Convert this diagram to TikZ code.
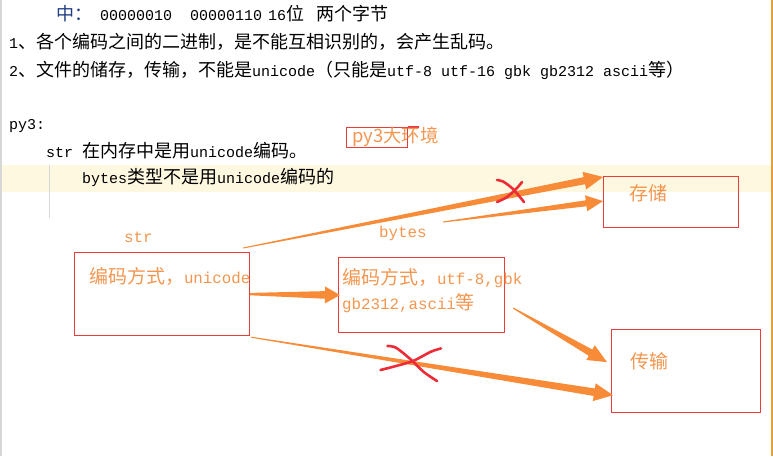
\documentclass[tikz,border=0pt]{standalone}
\usepackage{fontspec}
\setmainfont{Liberation Mono}
\newfontfamily\zhfont[Scale=1.2]{Noto Sans CJK SC}
\usetikzlibrary{calc}
\newcommand\zh[1]{{\zhfont #1}}
\definecolor{arrowc}{RGB}{247,139,56}
\definecolor{dtext}{RGB}{244,150,80}
\definecolor{boxred}{RGB}{235,60,60}
\definecolor{xred}{RGB}{236,45,55}
\definecolor{hlband}{RGB}{255,248,225}
\definecolor{edgeline}{RGB}{226,160,60}
\definecolor{lgrey}{RGB}{215,215,215}
\definecolor{zhong}{RGB}{30,60,130}
% #1 start, #2 end, #3 start half-width, #4 shaft half-width, #5 head length, #6 head half-width
\newcommand\brusharrow[6]{%
  \coordinate (bS) at ($(#2)!#5!(#1)$);
  \fill[arrowc] ($(#1)!#3!90:(#2)$) -- ($(bS)!#4!-90:(#1)$) -- ($(bS)!#6!-90:(#1)$) -- (#2)
    -- ($(bS)!#6!90:(#1)$) -- ($(bS)!#4!90:(#1)$) -- ($(#1)!#3!-90:(#2)$) -- cycle;}
\begin{document}
\begin{tikzpicture}[x=1pt,y=-1pt,
  body/.style={anchor=base west, inner sep=0pt, font=\fontsize{15}{18}\selectfont, text=black},
  dlabel/.style={anchor=base west, inner sep=0pt, font=\fontsize{15.8}{19}\selectfont, text=dtext},
  redbox/.style={draw=boxred, line width=1.2pt, anchor=north west, inner sep=0pt},
  xmark/.style={draw=xred, line width=2.6pt, line cap=round, line join=round}]
\useasboundingbox (0,0) rectangle (773,456);
\fill[white] (0,0) rectangle (773,456);
\fill[hlband] (0,165) rectangle (771,192);
\draw[lgrey, line width=1.5pt] (0.8,0) -- (0.8,456);
\draw[lgrey, line width=1pt] (49,165) -- (49,218);
\draw[edgeline, line width=1.6pt] (772,0) -- (772,456);

% text lines
\node[body, text=zhong] (t1a) at (56,20.5) {\zh{中：}};
\node[body] (t1b) at (100,20.5) {00000010};
\node[body] (t1c) at (190,20.5) {00000110};
\node[body] (t1d) at (268,20.5) {16\zh{位}};
\node[body] (t1e) at (316,20.5) {\zh{两个字节}};
\node[body] (t2) at (9,48) {1\zh{、各个编码之间的二进制，是不能互相识别的，会产生乱码。}};
\node[body] (t3) at (9,76) {2\zh{、文件的储存，传输，不能是}unicode\zh{（只能是}utf-8 utf-16 gbk gb2312 ascii\zh{等）}};
\node[body] (t4) at (9,129) {py3:};
\node[body] (t5) at (46,157) {str \zh{在内存中是用}unicode\zh{编码。}};
\node[body] (t6) at (82,183) {bytes\zh{类型不是用}unicode\zh{编码的}};

% boxes
\node[redbox, minimum width=61pt, minimum height=20pt] (envbox) at (346,127) {};
\draw[boxred, line width=1.2pt] (envbox.north east) -- ++(11,0);
\node[anchor=base west, inner sep=0pt, text=dtext, font=\fontsize{15.3}{19}\selectfont\zhfont] (env) at (352,142) {py3大环境};

\node[redbox, minimum width=135pt, minimum height=51pt] (storebox) at (603,176) {};
\node[anchor=base west, inner sep=0pt, text=dtext, font=\fontsize{15.8}{19}\selectfont\zhfont] (store) at (629,200) {存储};

\node[redbox, minimum width=149pt, minimum height=83pt] (transbox) at (611,329) {};
\node[anchor=base west, inner sep=0pt, text=dtext, font=\fontsize{15.8}{19}\selectfont\zhfont] (trans) at (630,368) {传输};

\node[redbox, minimum width=175pt, minimum height=83pt] (strbox) at (74,252) {};
\node[dlabel] (strlab) at (124,242) {str};
\node[dlabel] (strtxt) at (89,283) {\zh{编码方式，}unicode};

\node[redbox, minimum width=166pt, minimum height=75pt] (bytesbox) at (338,257) {};
\node[dlabel] (byteslab) at (379,237) {bytes};
\node[dlabel] (bytestxt1) at (342,284) {\zh{编码方式，}utf-8,gbk};
\node[dlabel] (bytestxt2) at (342,309) {gb2312,ascii\zh{等}};

% arrows
\coordinate (a1s) at ($(strbox.north east)+(-7,-4)$);
\coordinate (a1e) at ($(storebox.north west)+(0,1)$);
\coordinate (a2s) at (443,222);
\coordinate (a2e) at ($(storebox.west)+(0,-1)$);
\coordinate (a3s) at (strbox.east);
\coordinate (a3e) at ($(bytesbox.west)+(2,0)$);
\coordinate (a4s) at ($(bytesbox.east)+(8,13)$);
\coordinate (a4e) at ($(transbox.west)+(-4,-9)$);
\coordinate (a5s) at ($(strbox.south east)+(1,1)$);
\coordinate (a5e) at ($(transbox.south west)+(2,-18)$);
\brusharrow{a1s}{a1e}{0.5pt}{3.6pt}{19pt}{9pt}
\brusharrow{a2s}{a2e}{0.5pt}{3pt}{17pt}{8pt}
\brusharrow{a3s}{a3e}{1.2pt}{3.8pt}{15pt}{8.5pt}
\brusharrow{a4s}{a4e}{0.6pt}{3.6pt}{19pt}{8.5pt}
\brusharrow{a5s}{a5e}{0.5pt}{3.8pt}{19pt}{9pt}

% red crosses
\draw[xmark] plot[smooth] coordinates {(497,180) (503,181.5) (513,189) (524,202)};
\draw[xmark] plot[smooth] coordinates {(522,182) (517,188) (507,197) (497,202)};
\draw[xmark] plot[smooth] coordinates {(387.5,346) (396,347.7) (410,358.8) (423.8,372) (437,381)};
\draw[xmark] plot[smooth] coordinates {(380.5,370) (396,366) (413.4,360.8) (430.7,351.8) (441,348.4)};
\end{tikzpicture}
\end{document}
